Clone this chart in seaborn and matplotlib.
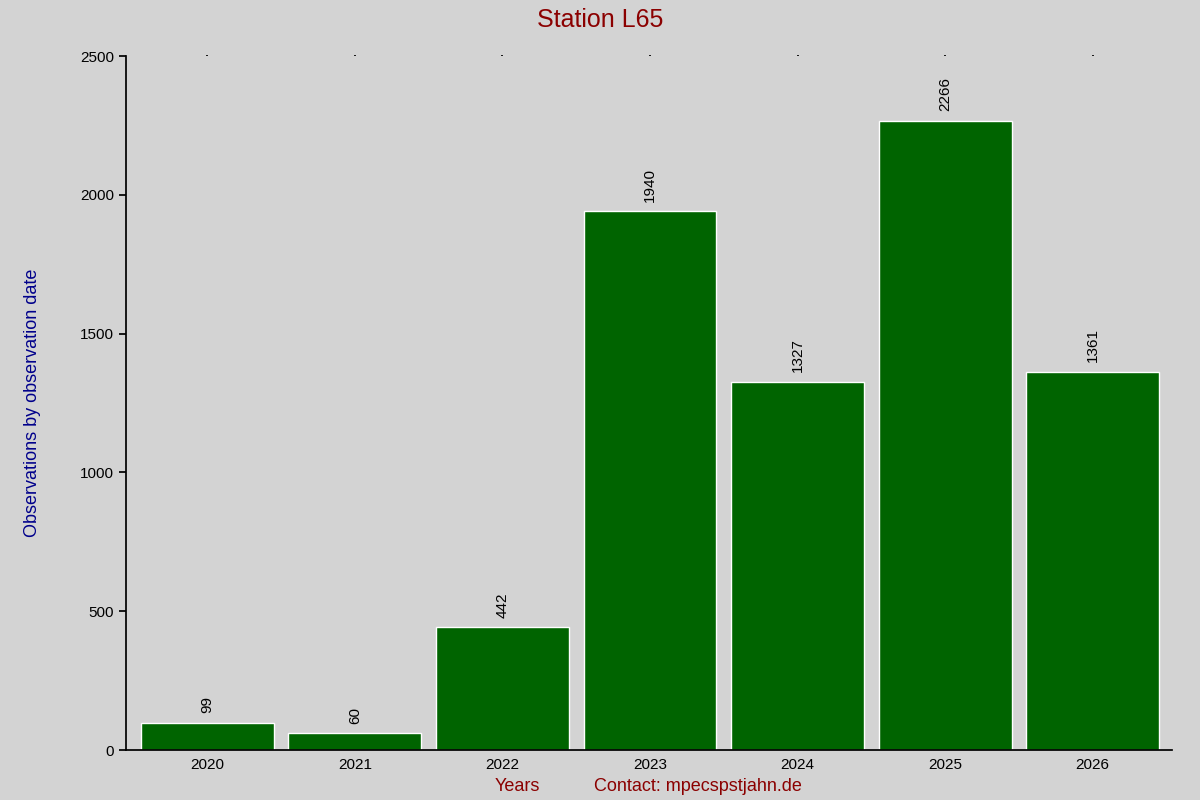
import matplotlib
matplotlib.use("Agg")
import matplotlib.pyplot as plt
import seaborn as sns
import pandas as pd

years = ["2020", "2021", "2022", "2023", "2024", "2025", "2026"]
counts = [99, 60, 442, 1940, 1327, 2266, 1361]

sns.set_theme(style="ticks")
plt.rcParams['font.family'] = ['Liberation Sans', 'DejaVu Sans']
bg = "#d3d3d3"
fig = plt.figure(figsize=(12, 8), dpi=100, facecolor=bg)
ax = fig.add_axes([0.105, 0.0625, 0.872, 0.8675], facecolor=bg)
df = pd.DataFrame({"year": years, "n": counts})
sns.barplot(data=df, x="year", y="n", color="#006400", saturation=1, width=0.9, ax=ax)
for i, v in enumerate(counts):
    ax.text(i, v + 35, str(v), rotation=90, ha="center", va="bottom", fontsize=11, color="black")
ax.set_xlim(-0.55, 6.54)
ax.set_ylim(0, 2500)
ax.set_yticks([0, 500, 1000, 1500, 2000, 2500])
ax.tick_params(axis="both", labelsize=11, colors="black", direction="out", length=5)
ax.tick_params(axis="x", length=0, pad=6)
for s in ["top", "right"]:
    ax.spines[s].set_visible(False)
ax.spines["left"].set_color("black")
ax.spines["bottom"].set_color("black")
ax2 = ax.secondary_xaxis("top")
ax2.set_xticks(range(len(years)))
ax2.set_xticklabels([])
ax2.tick_params(length=1, color="black")
ax2.spines["top"].set_visible(False)
ax.set_xlabel("")
ax.set_ylabel("Observations by observation date", color="#00008b", fontsize=13, labelpad=28)
fig.text(0.5, 0.975, "Station L65", ha="center", va="center", fontsize=18, color="#8b0000")
fig.text(0.431, 0.017, "Years", ha="center", va="center", fontsize=13, color="#8b0000")
fig.text(0.582, 0.017, "Contact: mpecspstjahn.de", ha="center", va="center", fontsize=13, color="#8b0000")
fig.savefig("out.png", dpi=100, facecolor=bg)
